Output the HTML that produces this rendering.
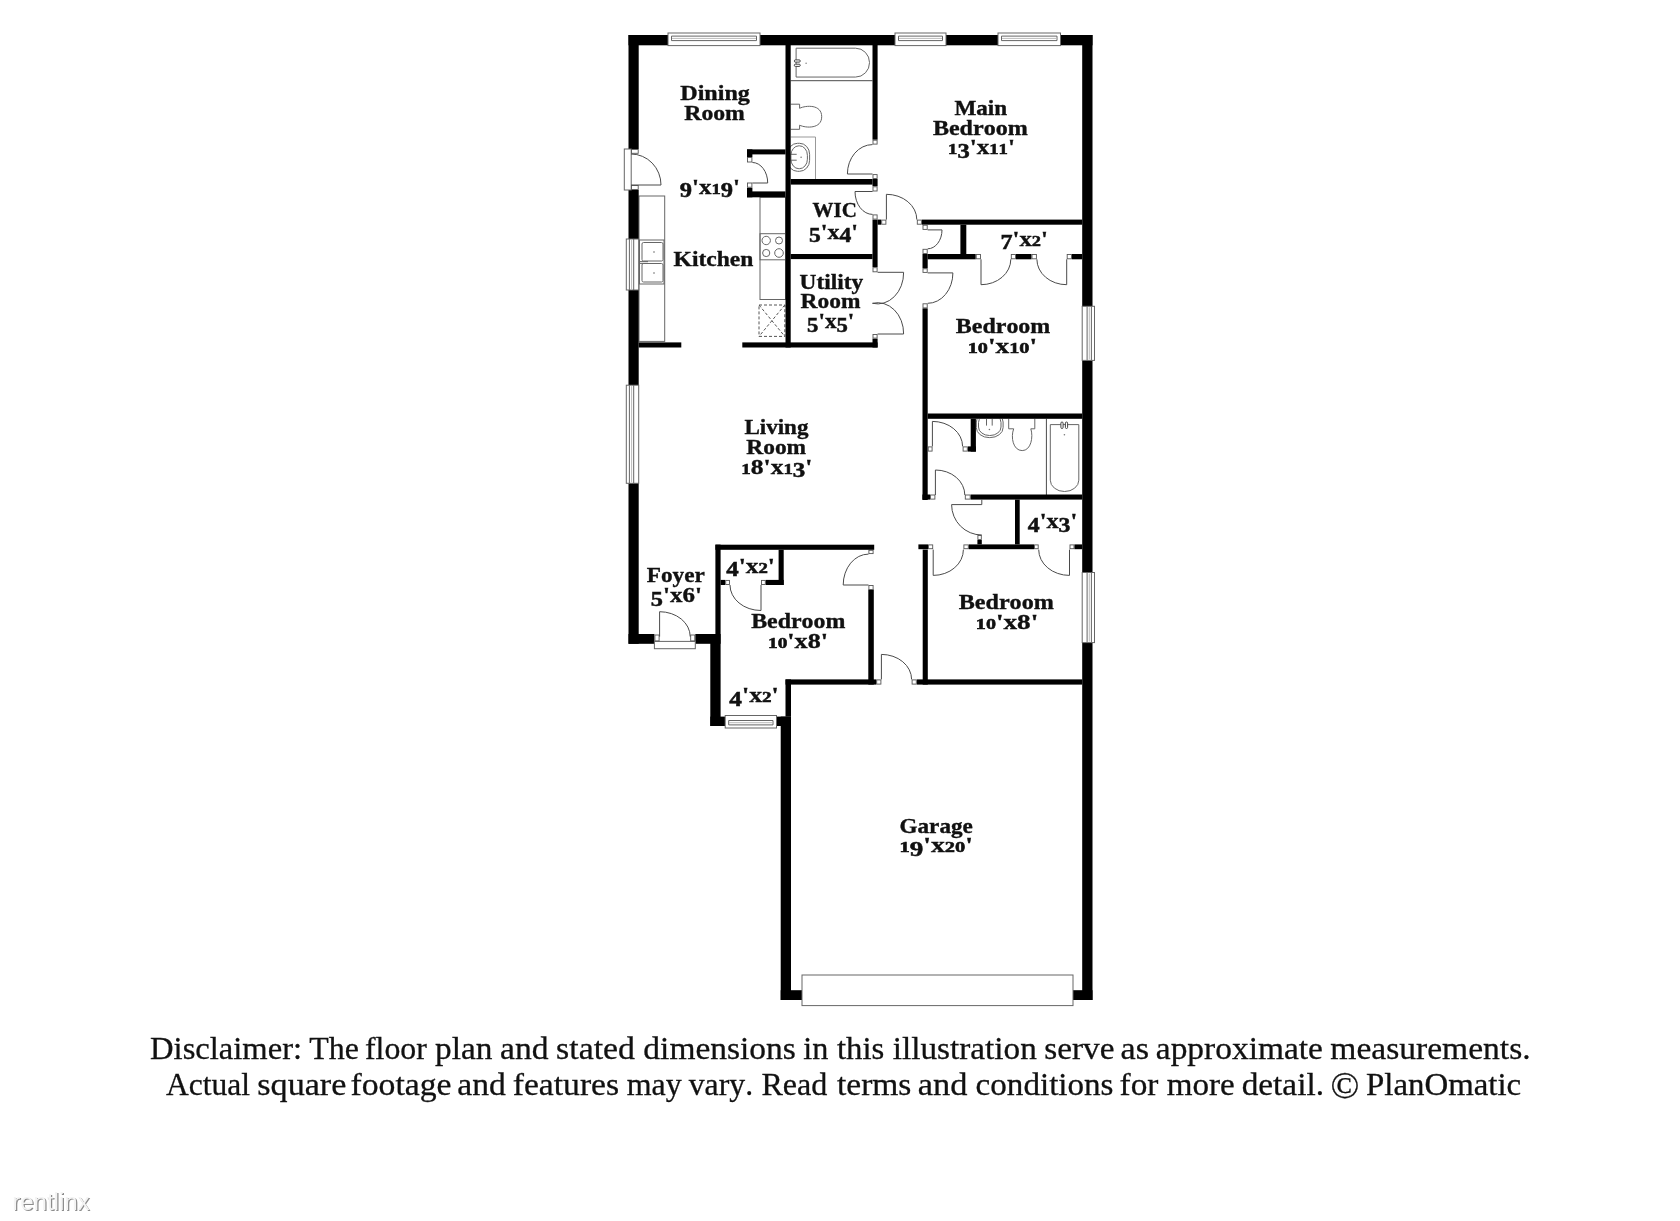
<!DOCTYPE html>
<html><head><meta charset="utf-8"><title>Floor Plan</title>
<style>
html,body{margin:0;padding:0;background:#fff;}
body{width:1680px;height:1221px;overflow:hidden;position:relative;}
svg{position:absolute;left:0;top:0;filter:grayscale(100%);}
.j{fill:#fff;stroke:#555;stroke-width:0.9;}
.l{fill:none;stroke:#4a4a4a;stroke-width:1;}
.f{fill:none;stroke:#666;stroke-width:1;}
.f2{fill:#fff;stroke:#444;stroke-width:1;}
.f3{fill:none;stroke:#999;stroke-width:1;}
.d{fill:none;stroke:#555;stroke-width:1;stroke-dasharray:3 2;}
.wl{fill:none;stroke:#bbb;stroke-width:1;}
.w{fill:#fff;stroke:#666;stroke-width:1;}
.t{font-family:"Liberation Serif",serif;font-weight:bold;fill:#111;stroke:#111;stroke-width:0.35;font-kerning:none;font-variant-ligatures:none;}
.disc{font-family:"Liberation Serif",serif;fill:#111;stroke:#111;stroke-width:0.3;font-kerning:none;font-variant-ligatures:none;}
.wm{font-family:"Liberation Sans",sans-serif;fill:#c8c8c8;}
</style></head><body>
<svg width="1680" height="1221" viewBox="0 0 1680 1221">
<rect class="f" x="639" y="196" width="25.7" height="145.4"/>
<rect class="f" x="639.5" y="240" width="24.5" height="44"/>
<rect class="f" x="642" y="242.5" width="21" height="18.5" rx="1.5"/>
<rect class="f" x="642" y="263.5" width="21" height="18.5" rx="1.5"/>
<circle cx="654" cy="252" r="0.8" fill="#666"/>
<circle cx="654" cy="273" r="0.8" fill="#666"/>
<path class="f" d="M639.5 261.6 H648 M639.5 263.4 H648"/>
<rect class="f" x="760" y="197.3" width="25.5" height="102.2"/>
<rect class="f" x="760" y="233.7" width="25.5" height="26.1"/>
<circle class="f" cx="766.2" cy="240.5" r="4.2"/>
<circle class="f" cx="779" cy="240.5" r="3.5"/>
<circle class="f" cx="766.2" cy="253" r="3.6"/>
<circle class="f" cx="779" cy="253" r="4.3"/>
<rect class="d" x="759" y="305" width="25.8" height="31.4"/>
<path class="d" d="M759 305 L784.8 336.4 M784.8 305 L759 336.4"/>
<path class="f" d="M796.1 48.2 L855.6 48.2 A13.9 14.4 0 0 1 855.6 77.05 L796.1 77.05 Z"/>
<path class="l" d="M790.7 80.7 L872.5 80.7"/>
<rect class="f2" x="794.3" y="59.9" width="6" height="2.2" rx="1.1"/>
<rect class="f2" x="794.3" y="64.2" width="6" height="2.2" rx="1.1"/>
<circle cx="806.1" cy="63.2" r="0.7" fill="#777"/>
<path class="f" d="M790.7 104.2 H799.6 V108.3 C806 105.2 821.7 104.2 821.7 116.7 C821.7 129 806 128.2 799.6 125.2 V129.3 H790.7"/>
<path class="f3" d="M790.7 137 H815.5 V179"/>
<rect class="f" x="787.5" y="143.3" width="22.1" height="28" rx="10" ry="11"/>
<rect class="f" x="790.9" y="145.8" width="16.5" height="22.9" rx="8" ry="9.5"/>
<path class="f" d="M790.7 154.3 H796.7 M790.7 160.2 H796.7"/>
<circle cx="801.1" cy="157.3" r="0.8" fill="#777"/>
<rect class="f" x="976.3" y="412" width="26.8" height="25.6" rx="13" ry="10"/>
<rect class="f" x="978.5" y="414" width="22.5" height="21.5" rx="11" ry="8.5"/>
<rect fill="#fff" x="975" y="410" width="30" height="8.8"/>
<path class="f" d="M986.5 419 V425.6 M992.2 419 V425.6"/>
<circle cx="989.4" cy="429.5" r="0.8" fill="#777"/>
<path class="f" d="M1008.7 418.8 V428.8 H1013.7 M1030.8 428.8 H1034.8 V418.8"/>
<path class="f" d="M1013.7 428.8 C1010.5 437 1013 450.6 1022.2 450.6 C1031 450.6 1033.5 437 1030.8 428.8"/>
<path class="l" d="M1046.4 418.8 L1046.4 495.0"/>
<path class="f" d="M1050.3 424.6 L1078.8 424.6 L1078.8 480.2 A14.25 11.3 0 0 1 1050.3 480.2 Z"/>
<rect class="f2" x="1060.9" y="422" width="2.2" height="6.5" rx="1.1"/>
<rect class="f2" x="1065.4" y="422" width="2.2" height="6.5" rx="1.1"/>
<circle cx="1064.4" cy="434.8" r="0.8" fill="#777"/>
<rect x="628.5" y="35.0" width="10.2" height="114.0" fill="#000"/>
<rect x="628.5" y="190.0" width="10.2" height="49.0" fill="#000"/>
<rect x="628.5" y="290.0" width="10.2" height="95.0" fill="#000"/>
<rect x="628.5" y="483.0" width="10.2" height="160.8" fill="#000"/>
<rect x="628.5" y="35.0" width="39.5" height="10.3" fill="#000"/>
<rect x="760.0" y="35.0" width="135.0" height="10.3" fill="#000"/>
<rect x="946.0" y="35.0" width="52.0" height="10.3" fill="#000"/>
<rect x="1060.5" y="35.0" width="32.0" height="10.3" fill="#000"/>
<rect x="1082.2" y="35.0" width="10.3" height="271.3" fill="#000"/>
<rect x="1082.2" y="360.4" width="10.3" height="212.1" fill="#000"/>
<rect x="1082.2" y="642.6" width="10.3" height="357.4" fill="#000"/>
<rect x="628.5" y="634.0" width="25.9" height="9.8" fill="#000"/>
<rect x="695.3" y="634.0" width="25.3" height="9.8" fill="#000"/>
<rect x="710.3" y="634.0" width="10.3" height="92.0" fill="#000"/>
<rect x="715.4" y="544.6" width="5.2" height="89.4" fill="#000"/>
<rect x="710.3" y="716.6" width="14.9" height="9.4" fill="#000"/>
<rect x="776.5" y="716.6" width="14.5" height="9.4" fill="#000"/>
<rect x="780.7" y="716.6" width="10.3" height="283.4" fill="#000"/>
<rect x="785.5" y="679.4" width="5.5" height="37.2" fill="#000"/>
<rect x="780.7" y="990.2" width="21.3" height="9.8" fill="#000"/>
<rect x="1073.0" y="990.2" width="19.5" height="9.8" fill="#000"/>
<rect x="785.5" y="45.0" width="5.2" height="302.5" fill="#000"/>
<rect x="872.5" y="45.0" width="5.1" height="94.7" fill="#000"/>
<rect x="872.5" y="179.0" width="5.1" height="7.3" fill="#000"/>
<rect x="872.5" y="219.6" width="5.1" height="47.6" fill="#000"/>
<rect x="872.5" y="338.6" width="5.1" height="8.9" fill="#000"/>
<rect class="j" x="873.0" y="140.2" width="4.1" height="3.9"/>
<rect class="j" x="873.0" y="174.6" width="4.1" height="3.9"/>
<rect class="j" x="873.0" y="186.8" width="4.1" height="4.2"/>
<rect class="j" x="873.0" y="214.9" width="4.1" height="4.2"/>
<rect class="j" x="873.0" y="267.7" width="4.1" height="4.1"/>
<rect class="j" x="873.0" y="334.5" width="4.1" height="3.6"/>
<rect x="877.6" y="219.6" width="3.6" height="5.1" fill="#000"/>
<rect class="j" x="881.7" y="220.1" width="4.2" height="4.1"/>
<rect x="790.7" y="179.0" width="81.8" height="5.6" fill="#000"/>
<rect x="790.7" y="254.0" width="81.8" height="5.1" fill="#000"/>
<rect x="742.3" y="342.4" width="135.3" height="5.1" fill="#000"/>
<rect x="638.7" y="342.4" width="42.6" height="5.1" fill="#000"/>
<rect x="747.0" y="149.4" width="38.5" height="5.0" fill="#000"/>
<rect x="747.0" y="191.4" width="38.5" height="5.9" fill="#000"/>
<rect x="747.0" y="149.4" width="5.4" height="7.6" fill="#000"/>
<rect x="747.0" y="187.7" width="5.4" height="9.6" fill="#000"/>
<rect class="j" x="747.5" y="157.5" width="4.4" height="4.5"/>
<rect class="j" x="747.5" y="183.0" width="4.4" height="4.2"/>
<rect x="921.9" y="219.6" width="160.3" height="5.1" fill="#000"/>
<rect class="j" x="917.3" y="220.1" width="4.1" height="4.1"/>
<rect class="j" x="923.0" y="225.2" width="4.2" height="4.2"/>
<rect class="j" x="923.0" y="249.3" width="4.2" height="4.2"/>
<rect class="j" x="923.0" y="268.8" width="4.2" height="3.6"/>
<rect class="j" x="923.0" y="303.8" width="4.2" height="4.1"/>
<rect x="922.5" y="254.0" width="5.2" height="14.3" fill="#000"/>
<rect x="922.5" y="308.4" width="5.2" height="191.6" fill="#000"/>
<rect x="960.4" y="224.7" width="5.9" height="29.3" fill="#000"/>
<rect x="927.7" y="254.0" width="48.0" height="5.3" fill="#000"/>
<rect class="j" x="976.2" y="254.5" width="4.3" height="4.3"/>
<rect class="j" x="1011.3" y="254.5" width="4.2" height="4.3"/>
<rect x="1016.0" y="254.0" width="15.5" height="5.3" fill="#000"/>
<rect class="j" x="1032.0" y="254.5" width="4.4" height="4.3"/>
<rect class="j" x="1067.2" y="254.5" width="4.3" height="4.3"/>
<rect x="1072.0" y="254.0" width="10.2" height="5.3" fill="#000"/>
<rect x="927.7" y="413.5" width="154.5" height="5.3" fill="#000"/>
<rect x="970.7" y="418.8" width="5.2" height="32.8" fill="#000"/>
<rect x="967.8" y="446.4" width="8.1" height="5.2" fill="#000"/>
<rect class="j" x="963.1" y="446.9" width="4.2" height="4.2"/>
<rect class="j" x="928.2" y="446.9" width="3.9" height="4.2"/>
<rect x="922.4" y="494.5" width="7.6" height="5.1" fill="#000"/>
<rect class="j" x="930.5" y="495.0" width="4.4" height="4.1"/>
<rect class="j" x="965.3" y="495.0" width="4.9" height="4.1"/>
<rect x="970.7" y="494.5" width="111.5" height="5.1" fill="#000"/>
<rect x="1015.0" y="499.6" width="4.7" height="44.8" fill="#000"/>
<rect x="918.4" y="544.4" width="9.6" height="4.8" fill="#000"/>
<rect class="j" x="928.5" y="544.9" width="4.2" height="3.8"/>
<rect class="j" x="963.9" y="544.9" width="4.4" height="3.8"/>
<rect x="968.8" y="544.4" width="65.2" height="4.8" fill="#000"/>
<rect class="j" x="1034.5" y="544.9" width="3.7" height="3.8"/>
<rect class="j" x="1070.0" y="544.9" width="4.0" height="3.8"/>
<rect x="1074.5" y="544.4" width="7.7" height="4.8" fill="#000"/>
<rect x="977.4" y="540.0" width="4.4" height="4.4" fill="#000"/>
<rect class="j" x="977.9" y="535.5" width="3.4" height="4.0"/>
<path class="l" d="M981.8 504.6 L981.8 499.6"/>
<rect x="922.7" y="549.6" width="5.1" height="135.0" fill="#000"/>
<rect x="916.8" y="679.4" width="165.4" height="5.2" fill="#000"/>
<rect class="j" x="912.1" y="679.9" width="4.2" height="4.2"/>
<rect class="j" x="876.7" y="679.9" width="4.2" height="4.2"/>
<rect x="785.5" y="679.4" width="90.7" height="5.2" fill="#000"/>
<rect x="868.3" y="589.5" width="5.5" height="95.1" fill="#000"/>
<rect class="j" x="868.9" y="585.5" width="4.2" height="4.0"/>
<rect class="j" x="868.9" y="550.3" width="4.2" height="3.3"/>
<rect x="715.4" y="544.7" width="158.8" height="5.1" fill="#000"/>
<rect x="778.6" y="549.8" width="5.1" height="35.2" fill="#000"/>
<rect x="720.6" y="579.9" width="4.6" height="5.1" fill="#000"/>
<rect class="j" x="725.7" y="580.4" width="3.8" height="4.1"/>
<rect class="j" x="761.5" y="580.4" width="3.8" height="4.1"/>
<rect x="765.8" y="579.9" width="17.9" height="5.1" fill="#000"/>
<rect class="w" x="668.0" y="33.0" width="92.0" height="12.6"/>
<path class="f" d="M671.5 36.1 H756.5 M671.5 40.6 H756.5 M671.5 36.1 V40.6 M756.5 36.1 V40.6"/>
<path class="wl" d="M672.0 38.4 H756.0"/>
<rect class="w" x="895.0" y="33.0" width="51.0" height="12.6"/>
<path class="f" d="M898.5 36.1 H942.5 M898.5 40.6 H942.5 M898.5 36.1 V40.6 M942.5 36.1 V40.6"/>
<path class="wl" d="M899.0 38.4 H942.0"/>
<rect class="w" x="998.0" y="33.0" width="62.5" height="12.6"/>
<path class="f" d="M1001.5 36.1 H1057.0 M1001.5 40.6 H1057.0 M1001.5 36.1 V40.6 M1057.0 36.1 V40.6"/>
<path class="wl" d="M1002.0 38.4 H1056.5"/>
<rect class="w" x="626.3" y="239.0" width="12.4" height="51.0"/>
<path class="f" d="M629.4 239.0 V290.0 M633.7 239.0 V290.0"/>
<path class="wl" d="M631.6 240.0 V289.0"/>
<rect class="w" x="626.3" y="385.2" width="12.4" height="98.1"/>
<path class="f" d="M629.4 385.2 V483.3 M633.7 385.2 V483.3"/>
<path class="wl" d="M631.6 386.2 V482.3"/>
<rect class="w" x="1082.2" y="306.3" width="12.3" height="54.1"/>
<path class="f" d="M1087.1 306.3 V360.4 M1091.4 306.3 V360.4"/>
<path class="wl" d="M1089.3 307.3 V359.4"/>
<rect class="w" x="1082.2" y="572.5" width="12.3" height="70.1"/>
<path class="f" d="M1087.1 572.5 V642.6 M1091.4 572.5 V642.6"/>
<path class="wl" d="M1089.3 573.5 V641.6"/>
<rect class="w" x="725.2" y="715.5" width="51.3" height="12.5"/>
<path class="f" d="M728.7 720.5 H773.0 M728.7 724.9 H773.0 M728.7 720.5 V724.9 M773.0 720.5 V724.9"/>
<path class="wl" d="M729.2 722.7 H772.5"/>
<rect class="w" x="624.3" y="149" width="6.9" height="41"/>
<rect class="j" x="631.5" y="149.5" width="6.7" height="3.8"/>
<rect class="j" x="631.5" y="185.5" width="6.7" height="4.0"/>
<rect class="w" x="654.4" y="641.4" width="40.9" height="7.3"/>
<rect class="j" x="654.9" y="635.0" width="4.2" height="5.9"/>
<rect class="j" x="690.7" y="635.0" width="4.1" height="5.9"/>
<rect class="w" x="802" y="975" width="271" height="30.6"/>
<path class="l" d="M631.0 185.0 L661.0 185.0"/>
<path class="l" d="M661.0 185.0 A30.0 31.0 0 0 0 631.0 154.0"/>
<path class="l" d="M752.4 183.0 L767.7 183.0"/>
<path class="l" d="M767.7 183.0 A15.3 20.5 0 0 0 752.4 162.5"/>
<path class="l" d="M872.5 174.0 L847.4 174.0"/>
<path class="l" d="M847.4 174.0 A25.1 29.4 0 0 1 872.5 144.6"/>
<path class="l" d="M872.6 191.5 L855.0 191.5"/>
<path class="l" d="M855.0 191.5 A17.6 22.9 0 0 0 872.6 214.4"/>
<path class="l" d="M886.4 219.6 L886.4 194.3"/>
<path class="l" d="M886.4 194.3 A30.4 25.3 0 0 1 916.8 219.6"/>
<path class="l" d="M927.7 229.9 L942.0 229.9"/>
<path class="l" d="M942.0 229.9 A14.3 18.9 0 0 1 927.7 248.8"/>
<path class="l" d="M927.7 272.9 L952.9 272.9"/>
<path class="l" d="M952.9 272.9 A25.2 30.4 0 0 1 927.7 303.3"/>
<path class="l" d="M877.6 272.3 L903.6 272.3"/>
<path class="l" d="M903.6 272.3 A26.0 31.0 0 0 1 872.5 303.3"/>
<path class="l" d="M877.6 334.0 L903.6 334.0"/>
<path class="l" d="M903.6 334.0 A26.0 30.7 0 0 0 872.5 303.3"/>
<path class="l" d="M981.0 259.3 L981.0 284.7"/>
<path class="l" d="M981.0 284.7 A29.8 25.4 0 0 0 1010.8 259.3"/>
<path class="l" d="M1066.7 259.3 L1066.7 284.7"/>
<path class="l" d="M1066.7 284.7 A29.8 25.4 0 0 1 1036.9 259.3"/>
<path class="l" d="M932.4 446.4 L932.4 421.4"/>
<path class="l" d="M932.4 421.4 A30.2 25.0 0 0 1 962.6 446.4"/>
<path class="l" d="M935.4 495.0 L935.4 470.0"/>
<path class="l" d="M935.4 470.0 A29.4 25.0 0 0 1 964.8 495.0"/>
<path class="l" d="M981.8 504.6 L951.6 504.6"/>
<path class="l" d="M951.6 504.6 A30.2 30.4 0 0 0 981.8 535.0"/>
<path class="l" d="M933.2 549.6 L933.2 575.4"/>
<path class="l" d="M933.2 575.4 A30.2 25.8 0 0 0 963.4 549.6"/>
<path class="l" d="M1069.5 549.6 L1069.5 575.4"/>
<path class="l" d="M1069.5 575.4 A30.8 25.8 0 0 1 1038.7 549.6"/>
<path class="l" d="M881.4 679.4 L881.4 654.4"/>
<path class="l" d="M881.4 654.4 A30.2 25.0 0 0 1 911.6 679.4"/>
<path class="l" d="M659.6 636.6 L659.6 611.7"/>
<path class="l" d="M659.6 611.7 A30.6 24.9 0 0 1 690.2 636.6"/>
<path class="l" d="M761.0 585.0 L761.0 610.5"/>
<path class="l" d="M761.0 610.5 A31.0 25.5 0 0 1 730.0 585.0"/>
<path class="l" d="M868.5 585.0 L843.2 585.0"/>
<path class="l" d="M843.2 585.0 A25.3 30.9 0 0 1 868.5 554.1"/>
<text class="t" x="680.28" y="100.4" textLength="69.66" lengthAdjust="spacingAndGlyphs" font-size="21">Dining</text>
<text class="t" x="684.29" y="119.6" textLength="60.61" lengthAdjust="spacingAndGlyphs" font-size="21">Room</text>
<text class="t" x="679.73" y="193.5" textLength="60.17" lengthAdjust="spacingAndGlyphs" font-size="21"><tspan font-size="20.5" y="197.3" stroke-width="0.5">9</tspan><tspan font-size="21" y="193.5">'</tspan><tspan font-size="21" y="193.5">x</tspan><tspan font-size="15.5" y="193.5" stroke-width="0.55">1</tspan><tspan font-size="20.5" y="197.3" stroke-width="0.5">9</tspan><tspan font-size="21" y="193.5">'</tspan></text>
<text class="t" x="673.60" y="266.0" textLength="79.76" lengthAdjust="spacingAndGlyphs" font-size="21">Kitchen</text>
<text class="t" x="954.51" y="115.0" textLength="52.64" lengthAdjust="spacingAndGlyphs" font-size="21">Main</text>
<text class="t" x="932.90" y="134.7" textLength="94.91" lengthAdjust="spacingAndGlyphs" font-size="21">Bedroom</text>
<text class="t" x="948.11" y="154.0" textLength="66.80" lengthAdjust="spacingAndGlyphs" font-size="21"><tspan font-size="15.5" y="154.0" stroke-width="0.55">1</tspan><tspan font-size="20.5" y="157.8" stroke-width="0.5">3</tspan><tspan font-size="21" y="154.0">'</tspan><tspan font-size="21" y="154.0">x</tspan><tspan font-size="15.5" y="154.0" stroke-width="0.55">1</tspan><tspan font-size="15.5" y="154.0" stroke-width="0.55">1</tspan><tspan font-size="21" y="154.0">'</tspan></text>
<text class="t" x="812.50" y="217.0" textLength="44.30" lengthAdjust="spacingAndGlyphs" font-size="21">WIC</text>
<text class="t" x="809.06" y="238.5" textLength="48.97" lengthAdjust="spacingAndGlyphs" font-size="21"><tspan font-size="20.5" y="242.3" stroke-width="0.5">5</tspan><tspan font-size="21" y="238.5">'</tspan><tspan font-size="21" y="238.5">x</tspan><tspan font-size="20.5" y="242.3" stroke-width="0.5">4</tspan><tspan font-size="21" y="238.5">'</tspan></text>
<text class="t" x="799.62" y="289.3" textLength="63.51" lengthAdjust="spacingAndGlyphs" font-size="21">Utility</text>
<text class="t" x="800.60" y="308.4" textLength="59.80" lengthAdjust="spacingAndGlyphs" font-size="21">Room</text>
<text class="t" x="807.09" y="328.0" textLength="47.27" lengthAdjust="spacingAndGlyphs" font-size="21"><tspan font-size="20.5" y="331.8" stroke-width="0.5">5</tspan><tspan font-size="21" y="328.0">'</tspan><tspan font-size="21" y="328.0">x</tspan><tspan font-size="20.5" y="331.8" stroke-width="0.5">5</tspan><tspan font-size="21" y="328.0">'</tspan></text>
<text class="t" x="1000.42" y="245.5" textLength="47.46" lengthAdjust="spacingAndGlyphs" font-size="21"><tspan font-size="20.5" y="249.3" stroke-width="0.5">7</tspan><tspan font-size="21" y="245.5">'</tspan><tspan font-size="21" y="245.5">x</tspan><tspan font-size="15.5" y="245.5" stroke-width="0.55">2</tspan><tspan font-size="21" y="245.5">'</tspan></text>
<text class="t" x="955.80" y="333.3" textLength="94.51" lengthAdjust="spacingAndGlyphs" font-size="21">Bedroom</text>
<text class="t" x="967.78" y="353.2" textLength="69.29" lengthAdjust="spacingAndGlyphs" font-size="21"><tspan font-size="15.5" y="353.2" stroke-width="0.55">1</tspan><tspan font-size="15.5" y="353.2" stroke-width="0.55">0</tspan><tspan font-size="21" y="353.2">'</tspan><tspan font-size="21" y="353.2">x</tspan><tspan font-size="15.5" y="353.2" stroke-width="0.55">1</tspan><tspan font-size="15.5" y="353.2" stroke-width="0.55">0</tspan><tspan font-size="21" y="353.2">'</tspan></text>
<text class="t" x="744.41" y="433.8" textLength="64.02" lengthAdjust="spacingAndGlyphs" font-size="21">Living</text>
<text class="t" x="746.30" y="453.8" textLength="59.80" lengthAdjust="spacingAndGlyphs" font-size="21">Room</text>
<text class="t" x="741.39" y="473.5" textLength="71.04" lengthAdjust="spacingAndGlyphs" font-size="21"><tspan font-size="15.5" y="473.5" stroke-width="0.55">1</tspan><tspan font-size="21" y="473.5">8</tspan><tspan font-size="21" y="473.5">'</tspan><tspan font-size="21" y="473.5">x</tspan><tspan font-size="15.5" y="473.5" stroke-width="0.55">1</tspan><tspan font-size="20.5" y="477.3" stroke-width="0.5">3</tspan><tspan font-size="21" y="473.5">'</tspan></text>
<text class="t" x="1027.88" y="528.0" textLength="49.36" lengthAdjust="spacingAndGlyphs" font-size="21"><tspan font-size="20.5" y="531.8" stroke-width="0.5">4</tspan><tspan font-size="21" y="528.0">'</tspan><tspan font-size="21" y="528.0">x</tspan><tspan font-size="20.5" y="531.8" stroke-width="0.5">3</tspan><tspan font-size="21" y="528.0">'</tspan></text>
<text class="t" x="646.80" y="581.6" textLength="58.00" lengthAdjust="spacingAndGlyphs" font-size="21">Foyer</text>
<text class="t" x="650.82" y="602.0" textLength="51.07" lengthAdjust="spacingAndGlyphs" font-size="21"><tspan font-size="20.5" y="605.8" stroke-width="0.5">5</tspan><tspan font-size="21" y="602.0">'</tspan><tspan font-size="21" y="602.0">x</tspan><tspan font-size="21" y="602.0">6</tspan><tspan font-size="21" y="602.0">'</tspan></text>
<text class="t" x="726.26" y="572.5" textLength="48.67" lengthAdjust="spacingAndGlyphs" font-size="21"><tspan font-size="20.5" y="576.3" stroke-width="0.5">4</tspan><tspan font-size="21" y="572.5">'</tspan><tspan font-size="21" y="572.5">x</tspan><tspan font-size="15.5" y="572.5" stroke-width="0.55">2</tspan><tspan font-size="21" y="572.5">'</tspan></text>
<text class="t" x="751.20" y="628.0" textLength="94.20" lengthAdjust="spacingAndGlyphs" font-size="21">Bedroom</text>
<text class="t" x="768.06" y="647.8" textLength="59.92" lengthAdjust="spacingAndGlyphs" font-size="21"><tspan font-size="15.5" y="647.8" stroke-width="0.55">1</tspan><tspan font-size="15.5" y="647.8" stroke-width="0.55">0</tspan><tspan font-size="21" y="647.8">'</tspan><tspan font-size="21" y="647.8">x</tspan><tspan font-size="21" y="647.8">8</tspan><tspan font-size="21" y="647.8">'</tspan></text>
<text class="t" x="729.36" y="702.0" textLength="49.40" lengthAdjust="spacingAndGlyphs" font-size="21"><tspan font-size="20.5" y="705.8" stroke-width="0.5">4</tspan><tspan font-size="21" y="702.0">'</tspan><tspan font-size="21" y="702.0">x</tspan><tspan font-size="15.5" y="702.0" stroke-width="0.55">2</tspan><tspan font-size="21" y="702.0">'</tspan></text>
<text class="t" x="958.70" y="609.1" textLength="95.11" lengthAdjust="spacingAndGlyphs" font-size="21">Bedroom</text>
<text class="t" x="975.89" y="629.3" textLength="62.36" lengthAdjust="spacingAndGlyphs" font-size="21"><tspan font-size="15.5" y="629.3" stroke-width="0.55">1</tspan><tspan font-size="15.5" y="629.3" stroke-width="0.55">0</tspan><tspan font-size="21" y="629.3">'</tspan><tspan font-size="21" y="629.3">x</tspan><tspan font-size="21" y="629.3">8</tspan><tspan font-size="21" y="629.3">'</tspan></text>
<text class="t" x="899.57" y="832.8" textLength="73.23" lengthAdjust="spacingAndGlyphs" font-size="21">Garage</text>
<text class="t" x="899.57" y="852.3" textLength="73.33" lengthAdjust="spacingAndGlyphs" font-size="21"><tspan font-size="15.5" y="852.3" stroke-width="0.55">1</tspan><tspan font-size="20.5" y="856.1" stroke-width="0.5">9</tspan><tspan font-size="21" y="852.3">'</tspan><tspan font-size="21" y="852.3">x</tspan><tspan font-size="15.5" y="852.3" stroke-width="0.55">2</tspan><tspan font-size="15.5" y="852.3" stroke-width="0.55">0</tspan><tspan font-size="21" y="852.3">'</tspan></text>
<text class="disc" x="150.06" y="1059.0" textLength="151.98" lengthAdjust="spacingAndGlyphs" font-size="32">Disclaimer:</text>
<text class="disc" x="309.22" y="1059.0" textLength="49.58" lengthAdjust="spacingAndGlyphs" font-size="32">The</text>
<text class="disc" x="365.02" y="1059.0" textLength="61.76" lengthAdjust="spacingAndGlyphs" font-size="32">floor</text>
<text class="disc" x="435.06" y="1059.0" textLength="57.34" lengthAdjust="spacingAndGlyphs" font-size="32">plan</text>
<text class="disc" x="500.07" y="1059.0" textLength="48.44" lengthAdjust="spacingAndGlyphs" font-size="32">and</text>
<text class="disc" x="556.11" y="1059.0" textLength="78.90" lengthAdjust="spacingAndGlyphs" font-size="32">stated</text>
<text class="disc" x="643.39" y="1059.0" textLength="152.42" lengthAdjust="spacingAndGlyphs" font-size="32">dimensions</text>
<text class="disc" x="803.32" y="1059.0" textLength="25.06" lengthAdjust="spacingAndGlyphs" font-size="32">in</text>
<text class="disc" x="836.98" y="1059.0" textLength="47.30" lengthAdjust="spacingAndGlyphs" font-size="32">this</text>
<text class="disc" x="892.80" y="1059.0" textLength="143.95" lengthAdjust="spacingAndGlyphs" font-size="32">illustration</text>
<text class="disc" x="1044.23" y="1059.0" textLength="70.22" lengthAdjust="spacingAndGlyphs" font-size="32">serve</text>
<text class="disc" x="1120.50" y="1059.0" textLength="28.43" lengthAdjust="spacingAndGlyphs" font-size="32">as</text>
<text class="disc" x="1155.82" y="1059.0" textLength="167.13" lengthAdjust="spacingAndGlyphs" font-size="32">approximate</text>
<text class="disc" x="1330.30" y="1059.0" textLength="200.32" lengthAdjust="spacingAndGlyphs" font-size="32">measurements.</text>
<text class="disc" x="166.09" y="1094.5" textLength="83.94" lengthAdjust="spacingAndGlyphs" font-size="32">Actual</text>
<text class="disc" x="257.35" y="1094.5" textLength="89.03" lengthAdjust="spacingAndGlyphs" font-size="32">square</text>
<text class="disc" x="350.46" y="1094.5" textLength="101.11" lengthAdjust="spacingAndGlyphs" font-size="32">footage</text>
<text class="disc" x="457.32" y="1094.5" textLength="48.49" lengthAdjust="spacingAndGlyphs" font-size="32">and</text>
<text class="disc" x="512.72" y="1094.5" textLength="106.40" lengthAdjust="spacingAndGlyphs" font-size="32">features</text>
<text class="disc" x="626.63" y="1094.5" textLength="55.00" lengthAdjust="spacingAndGlyphs" font-size="32">may</text>
<text class="disc" x="688.75" y="1094.5" textLength="64.34" lengthAdjust="spacingAndGlyphs" font-size="32">vary.</text>
<text class="disc" x="761.38" y="1094.5" textLength="65.92" lengthAdjust="spacingAndGlyphs" font-size="32">Read</text>
<text class="disc" x="836.97" y="1094.5" textLength="74.44" lengthAdjust="spacingAndGlyphs" font-size="32">terms</text>
<text class="disc" x="917.79" y="1094.5" textLength="49.63" lengthAdjust="spacingAndGlyphs" font-size="32">and</text>
<text class="disc" x="975.64" y="1094.5" textLength="137.86" lengthAdjust="spacingAndGlyphs" font-size="32">conditions</text>
<text class="disc" x="1119.58" y="1094.5" textLength="38.82" lengthAdjust="spacingAndGlyphs" font-size="32">for</text>
<text class="disc" x="1166.70" y="1094.5" textLength="68.04" lengthAdjust="spacingAndGlyphs" font-size="32">more</text>
<text class="disc" x="1241.70" y="1094.5" textLength="82.30" lengthAdjust="spacingAndGlyphs" font-size="32">detail.</text>
<text class="disc" x="1330.57" y="1098.1" textLength="28.82" lengthAdjust="spacingAndGlyphs" font-size="37.8">&#169;</text>
<text class="disc" x="1366.05" y="1094.5" textLength="155.16" lengthAdjust="spacingAndGlyphs" font-size="32">PlanOmatic</text>
<g font-family="Liberation Sans" font-size="23">
<text x="13.4" y="1211.2" fill="#8c8c8c" textLength="77.5" lengthAdjust="spacingAndGlyphs">rentlinx</text>
<text x="12.2" y="1210.2" fill="#f4f4f4" textLength="77.5" lengthAdjust="spacingAndGlyphs">rentlinx</text>
</g>
</svg>
</body></html>
